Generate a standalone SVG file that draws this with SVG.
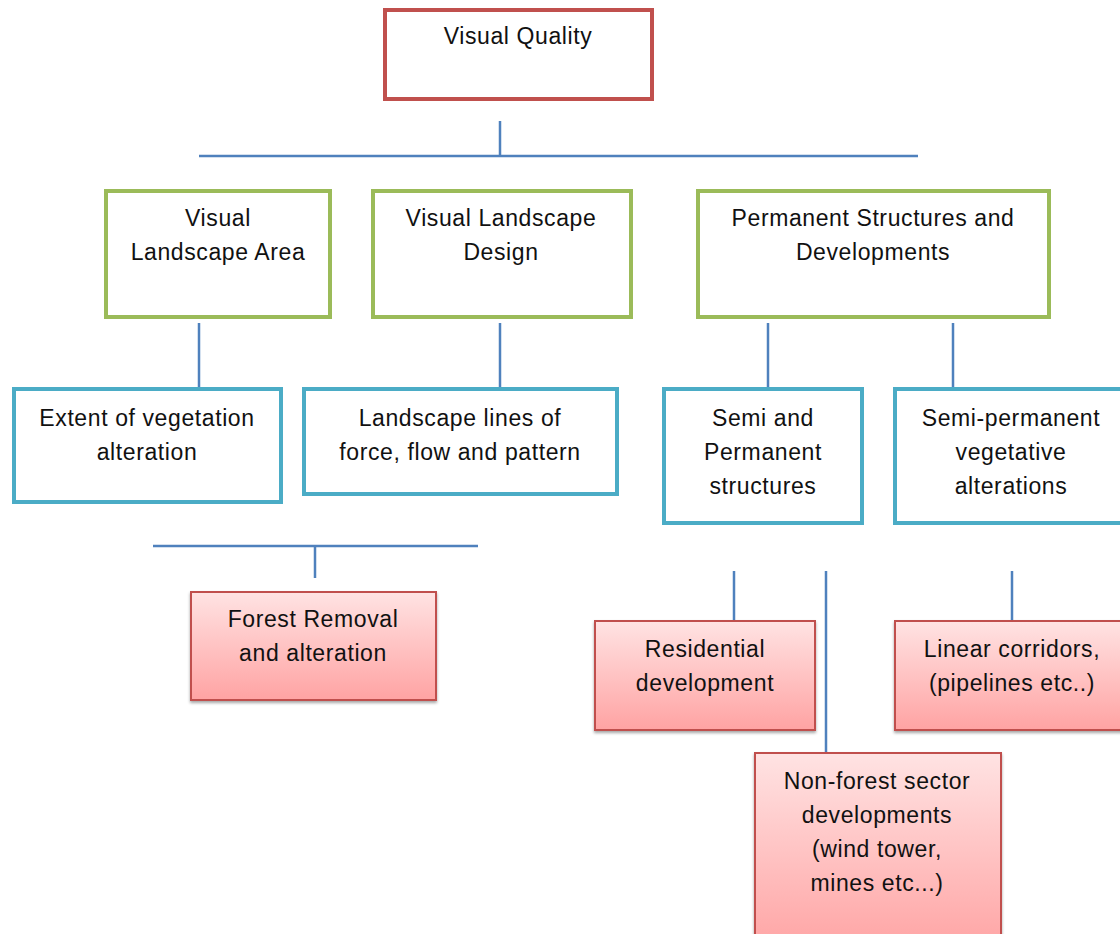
<svg xmlns="http://www.w3.org/2000/svg" width="1120" height="934" viewBox="0 0 1120 934">
<style>
.t{font-family:"Liberation Sans",Arial,sans-serif;font-size:23px;letter-spacing:0.6px;fill:#111;text-anchor:middle}
.red{fill:#fff;stroke:#C0504D;stroke-width:4}
.green{fill:#fff;stroke:#9BBB59;stroke-width:4}
.blue{fill:#fff;stroke:#4BACC6;stroke-width:4}
.pink{fill:url(#pg);stroke:#C0504D;stroke-width:2;filter:url(#sh)}
.c{stroke:#4F81BD;stroke-width:2.5;fill:none}
</style>
<defs>
<linearGradient id="pg" x1="0" y1="0" x2="0" y2="1">
<stop offset="0" stop-color="#FFE3E3"/>
<stop offset="1" stop-color="#FFA3A3"/>
</linearGradient>
<filter id="sh" x="-10%" y="-10%" width="120%" height="130%">
<feDropShadow dx="0" dy="2" stdDeviation="1.5" flood-color="#000" flood-opacity="0.35"/>
</filter>
</defs>
<rect width="1120" height="934" fill="#fff"/>
<g id="connectors">
<line class="c" x1="500" y1="121" x2="500" y2="156"/>
<line class="c" x1="199" y1="156" x2="918" y2="156"/>
<line class="c" x1="199" y1="323" x2="199" y2="388"/>
<line class="c" x1="500" y1="323" x2="500" y2="388"/>
<line class="c" x1="768" y1="323" x2="768" y2="388"/>
<line class="c" x1="953" y1="323" x2="953" y2="388"/>
<line class="c" x1="153" y1="546" x2="478" y2="546"/>
<line class="c" x1="315" y1="546" x2="315" y2="578"/>
<line class="c" x1="734" y1="571" x2="734" y2="621"/>
<line class="c" x1="826" y1="571" x2="826" y2="753"/>
<line class="c" x1="1012" y1="571" x2="1012" y2="621"/>
</g>
<g id="visual-quality">
<rect class="red" x="385" y="10" width="267" height="89"/>
<text class="t" x="518" y="44">Visual Quality</text>
</g>
<g id="visual-landscape-area">
<rect class="green" x="106" y="191" width="224" height="126"/>
<text class="t" x="218" y="226">Visual</text>
<text class="t" x="218" y="260">Landscape Area</text>
</g>
<g id="visual-landscape-design">
<rect class="green" x="373" y="191" width="258" height="126"/>
<text class="t" x="501" y="226">Visual Landscape</text>
<text class="t" x="501" y="260">Design</text>
</g>
<g id="permanent-structures">
<rect class="green" x="698" y="191" width="351" height="126"/>
<text class="t" x="873" y="226">Permanent Structures and</text>
<text class="t" x="873" y="260">Developments</text>
</g>
<g id="extent-vegetation">
<rect class="blue" x="14" y="389" width="267" height="113"/>
<text class="t" x="147" y="426">Extent of vegetation</text>
<text class="t" x="147" y="460">alteration</text>
</g>
<g id="landscape-lines">
<rect class="blue" x="304" y="389" width="313" height="105"/>
<text class="t" x="460" y="426">Landscape lines of</text>
<text class="t" x="460" y="460">force, flow and pattern</text>
</g>
<g id="semi-permanent-structures">
<rect class="blue" x="664" y="389" width="198" height="134"/>
<text class="t" x="763" y="426">Semi and</text>
<text class="t" x="763" y="460">Permanent</text>
<text class="t" x="763" y="494">structures</text>
</g>
<g id="semi-permanent-vegetative">
<rect class="blue" x="895" y="389" width="240" height="134"/>
<text class="t" x="1011" y="426">Semi-permanent</text>
<text class="t" x="1011" y="460">vegetative</text>
<text class="t" x="1011" y="494">alterations</text>
</g>
<g id="forest-removal">
<rect class="pink" x="191" y="592" width="245" height="108"/>
<text class="t" x="313" y="627">Forest Removal</text>
<text class="t" x="313" y="661">and alteration</text>
</g>
<g id="residential">
<rect class="pink" x="595" y="621" width="220" height="109"/>
<text class="t" x="705" y="657">Residential</text>
<text class="t" x="705" y="691">development</text>
</g>
<g id="linear-corridors">
<rect class="pink" x="895" y="621" width="240" height="109"/>
<text class="t" x="1012" y="657">Linear corridors,</text>
<text class="t" x="1012" y="691">(pipelines etc..)</text>
</g>
<g id="non-forest">
<rect class="pink" x="755" y="753" width="246" height="200"/>
<text class="t" x="877" y="789">Non-forest sector</text>
<text class="t" x="877" y="823">developments</text>
<text class="t" x="877" y="857">(wind tower,</text>
<text class="t" x="877" y="891">mines etc...)</text>
</g>
</svg>
